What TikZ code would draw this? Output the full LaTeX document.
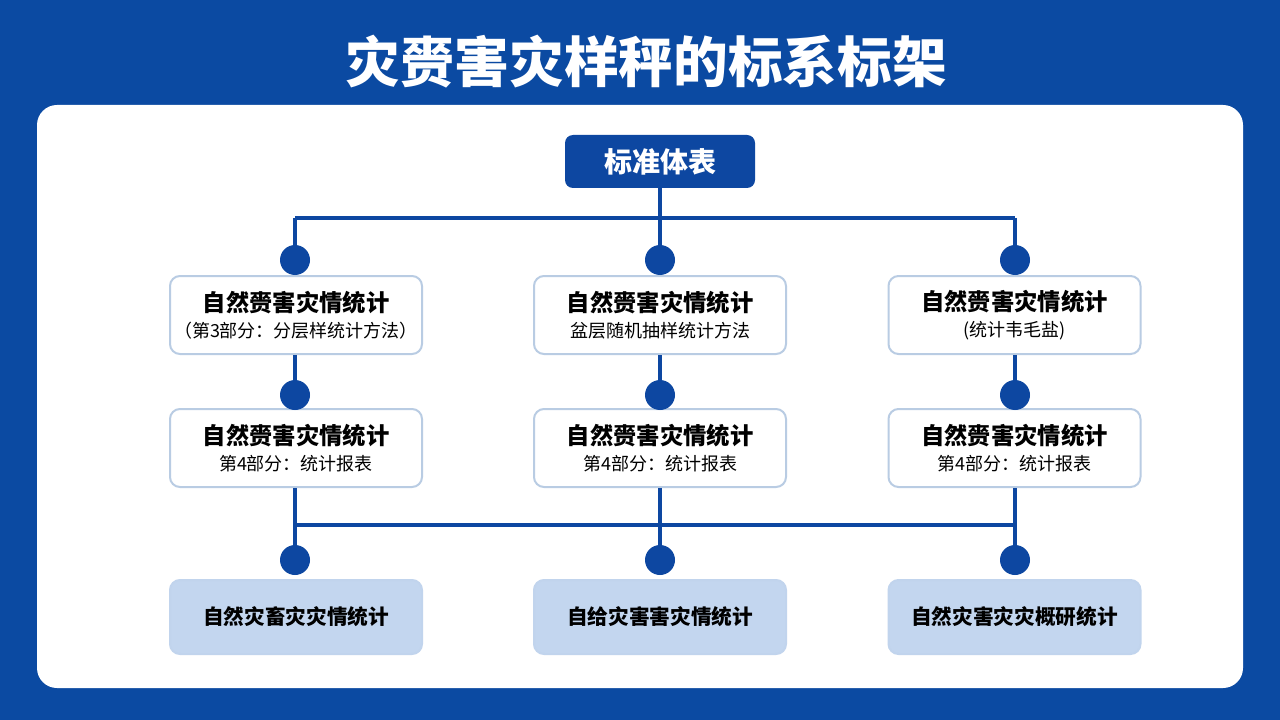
\documentclass[tikz,border=0pt]{standalone}
\usepackage{fontspec}
\newfontfamily\cjk{Noto Sans CJK SC}
\usetikzlibrary{positioning}
\definecolor{bgblue}{HTML}{0B4AA2}
\definecolor{lineblue}{HTML}{0D47A1}
\definecolor{boxedge}{HTML}{B9CCE3}
\definecolor{leaffill}{HTML}{C3D6EF}

\tikzset{
  conn/.style={lineblue, line width=2.4pt},
  dot/.style={circle, fill=lineblue, inner sep=0pt, minimum size=22.5pt},
  stdbox/.style={draw=boxedge, line width=1.5pt, fill=white, rounded corners=7.5pt,
    minimum width=189pt, minimum height=58.5pt, align=center, inner sep=0pt,
    font=\cjk, text=black},
  leafbox/.style={stdbox, fill=leaffill, draw=leaffill!85!boxedge, minimum height=55.5pt},
}
\newcommand{\mainline}[1]{{\fontsize{17.5}{21}\selectfont\bfseries #1}}
\newcommand{\subline}[1]{{\fontsize{13.5}{17}\selectfont #1}}

\begin{document}
\begin{tikzpicture}[x=0.75pt, y=-0.75pt]
    % background and panel
    \fill[bgblue] (0,0) rectangle (1280,720);
    \useasboundingbox (0,0) rectangle (1280,720);
    \fill[white, rounded corners=15pt] (37,105) rectangle (1243,688);
    \node[font=\cjk\bfseries, text=white] (title) at (646,62) {\fontsize{41}{46}\selectfont 灾赍害灾样秤的标系标架};

    % root
    \node[fill=lineblue, rounded corners=6pt, minimum width=142.5pt, minimum height=39.75pt,
      inner sep=0pt, text=white, font=\cjk\bfseries] (root) at (660,161.5) {\fontsize{21}{24}\selectfont 标准体表};
    \coordinate (jA) at (660,218);
    \coordinate (jAL) at (295,218);
    \coordinate (jAR) at (1015,218);

    % first row
    \node[stdbox] (L1) at (296,315) {\mainline{自然赍害灾情统计}\\[5pt]\subline{（第3部分：分层样统计方法）}};
    \node[stdbox] (M1) at (660,315) {\mainline{自然赍害灾情统计}\\[5pt]\subline{盆层随机抽样统计方法}};
    \node[stdbox] (R1) at (1014.5,315) {\mainline{自然赍害灾情统计}\\[5pt]\subline{(统计韦毛盐)}};

    % second row
    \node[stdbox] (L2) at (296,448) {\mainline{自然赍害灾情统计}\\[5pt]\subline{第4部分：统计报表}};
    \node[stdbox] (M2) at (660,448) {\mainline{自然赍害灾情统计}\\[5pt]\subline{第4部分：统计报表}};
    \node[stdbox] (R2) at (1014.5,448) {\mainline{自然赍害灾情统计}\\[5pt]\subline{第4部分：统计报表}};
    \coordinate (jB) at (660,525);
    \coordinate (jBL) at (295,525);
    \coordinate (jBR) at (1015,525);

    % leaves
    \node[leafbox] (L3) at (296,617) {\fontsize{15.5}{19}\selectfont\bfseries 自然灾畜灾灾情统计};
    \node[leafbox] (M3) at (660,617) {\fontsize{15.5}{19}\selectfont\bfseries 自给灾害害灾情统计};
    \node[leafbox] (R3) at (1014.5,617) {\fontsize{15.5}{19}\selectfont\bfseries 自然灾害灾灾概研统计};

    % connectors
    \draw[conn] (root.south) -- (jA);
    \draw[conn] (jAL) -- (jAR);
    \draw[conn] (L2.south -| jBL) -- (jBL);
    \draw[conn] (jBL) -- (jBR);
    \draw[conn] (M2.south) -- (jB);
    \draw[conn] (R2.south -| jBR) -- (jBR);
    \foreach \col/\x in {L/295,M/660,R/1015} {
      \node[dot] (\col a) at (\x,260) {};
      \node[dot] (\col b) at (\x,395) {};
      \node[dot] (\col c) at (\x,560) {};
      \draw[conn] (\x,218) -- (\col a);
      \draw[conn] (\col 1.south -| \col b) -- (\col b);
      \draw[conn] (\x,525) -- (\col c);
    }
\end{tikzpicture}
\end{document}
